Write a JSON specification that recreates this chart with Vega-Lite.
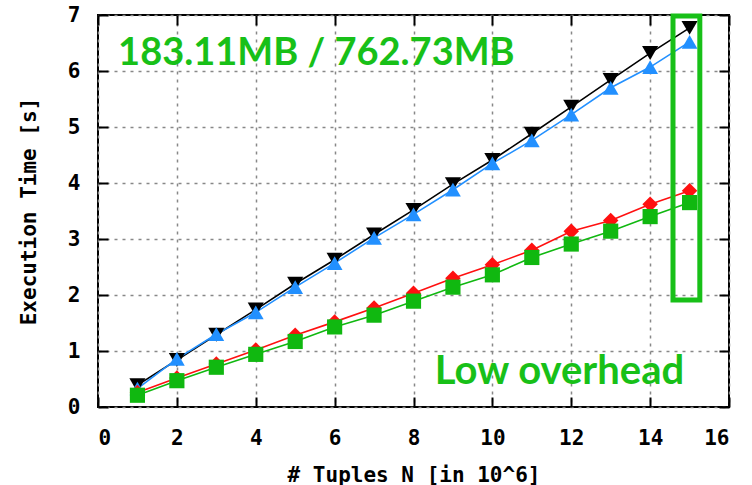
{
  "$schema": "https://vega.github.io/schema/vega-lite/v6.json",
  "width": 631,
  "height": 392,
  "autosize": {"type": "none"},
  "padding": {"left": 98, "top": 15, "right": 23, "bottom": 78},
  "background": "white",
  "config": {"view": {"stroke": "black", "strokeWidth": 2}},
  "datasets": {
    "series": [
      {"n": 1, "t": 0.39, "s": "A"}, {"n": 2, "t": 0.84, "s": "A"}, {"n": 3, "t": 1.29, "s": "A"}, {"n": 4, "t": 1.74, "s": "A"}, {"n": 5, "t": 2.2, "s": "A"},
      {"n": 6, "t": 2.63, "s": "A"}, {"n": 7, "t": 3.08, "s": "A"}, {"n": 8, "t": 3.52, "s": "A"}, {"n": 9, "t": 3.98, "s": "A"}, {"n": 10, "t": 4.41, "s": "A"},
      {"n": 11, "t": 4.88, "s": "A"}, {"n": 12, "t": 5.36, "s": "A"}, {"n": 13, "t": 5.84, "s": "A"}, {"n": 14, "t": 6.32, "s": "A"}, {"n": 15, "t": 6.77, "s": "A"},
      {"n": 1, "t": 0.33, "s": "B"}, {"n": 2, "t": 0.86, "s": "B"}, {"n": 3, "t": 1.3, "s": "B"}, {"n": 4, "t": 1.69, "s": "B"}, {"n": 5, "t": 2.14, "s": "B"},
      {"n": 6, "t": 2.57, "s": "B"}, {"n": 7, "t": 3.02, "s": "B"}, {"n": 8, "t": 3.44, "s": "B"}, {"n": 9, "t": 3.88, "s": "B"}, {"n": 10, "t": 4.35, "s": "B"},
      {"n": 11, "t": 4.76, "s": "B"}, {"n": 12, "t": 5.22, "s": "B"}, {"n": 13, "t": 5.7, "s": "B"}, {"n": 14, "t": 6.07, "s": "B"}, {"n": 15, "t": 6.52, "s": "B"},
      {"n": 1, "t": 0.26, "s": "C"}, {"n": 2, "t": 0.52, "s": "C"}, {"n": 3, "t": 0.77, "s": "C"}, {"n": 4, "t": 1.02, "s": "C"}, {"n": 5, "t": 1.28, "s": "C"},
      {"n": 6, "t": 1.52, "s": "C"}, {"n": 7, "t": 1.77, "s": "C"}, {"n": 8, "t": 2.03, "s": "C"}, {"n": 9, "t": 2.3, "s": "C"}, {"n": 10, "t": 2.54, "s": "C"},
      {"n": 11, "t": 2.8, "s": "C"}, {"n": 12, "t": 3.14, "s": "C"}, {"n": 13, "t": 3.33, "s": "C"}, {"n": 14, "t": 3.62, "s": "C"}, {"n": 15, "t": 3.86, "s": "C"},
      {"n": 1, "t": 0.21, "s": "D"}, {"n": 2, "t": 0.47, "s": "D"}, {"n": 3, "t": 0.71, "s": "D"}, {"n": 4, "t": 0.94, "s": "D"}, {"n": 5, "t": 1.17, "s": "D"},
      {"n": 6, "t": 1.43, "s": "D"}, {"n": 7, "t": 1.64, "s": "D"}, {"n": 8, "t": 1.89, "s": "D"}, {"n": 9, "t": 2.14, "s": "D"}, {"n": 10, "t": 2.36, "s": "D"},
      {"n": 11, "t": 2.67, "s": "D"}, {"n": 12, "t": 2.91, "s": "D"}, {"n": 13, "t": 3.14, "s": "D"}, {"n": 14, "t": 3.4, "s": "D"}, {"n": 15, "t": 3.65, "s": "D"}
    ],
    "box": [{"x1": 14.58, "x2": 15.26, "y1": 1.91, "y2": 6.98}],
    "notes": [
      {"x": 0.51, "y": 6.11, "label": "183.11MB / 762.73MB", "fs": 38},
      {"x": 8.54, "y": 0.41, "label": "Low overhead", "fs": 40}
    ]
  },
  "resolve": {"axis": {"x": "independent", "y": "independent"}},
  "layer": [
    {
      "layer": [
        {
          "data": {"name": "series"},
          "mark": {"type": "line", "strokeWidth": 1.6},
          "encoding": {
            "x": {"field": "n", "type": "quantitative", "scale": {"domain": [0, 16], "nice": false, "zero": false},
              "axis": {"title": "# Tuples N [in 10^6]", "values": [0, 2, 4, 6, 8, 10, 12, 14, 16], "format": "d", "grid": true, "gridDash": [3, 5], "gridColor": "#888888", "gridWidth": 1.5,
                "domain": false, "ticks": true, "tickSize": -10, "tickColor": "black", "tickWidth": 2, "labelPadding": 30,
                "labelFont": "DejaVu Sans Mono", "labelFontWeight": "bold", "labelFontSize": 21, "labelColor": "black",
                "titleFont": "DejaVu Sans Mono", "titleFontWeight": "bold", "titleFontSize": 21, "titleColor": "black", "titlePadding": 16}},
            "y": {"field": "t", "type": "quantitative", "scale": {"domain": [0, 7], "nice": false},
              "axis": {"title": "Execution Time [s]", "values": [0, 1, 2, 3, 4, 5, 6, 7], "format": "d", "grid": true, "gridDash": [3, 5], "gridColor": "#888888", "gridWidth": 1.5,
                "domain": false, "ticks": true, "tickSize": -10, "tickColor": "black", "tickWidth": 2, "labelPadding": 28,
                "labelFont": "DejaVu Sans Mono", "labelFontWeight": "bold", "labelFontSize": 21, "labelColor": "black",
                "titleFont": "DejaVu Sans Mono", "titleFontWeight": "bold", "titleFontSize": 21, "titleColor": "black", "titlePadding": 28}},
            "color": {"field": "s", "type": "nominal", "legend": null,
              "scale": {"domain": ["A", "B", "C", "D"], "range": ["#000000", "#2290ff", "#ff1010", "#10b810"]}},
            "order": {"field": "n"}
          }
        },
        {
          "data": {"name": "series"},
          "mark": {"type": "point", "filled": true, "opacity": 1},
          "encoding": {
            "x": {"field": "n", "type": "quantitative"},
            "y": {"field": "t", "type": "quantitative"},
            "color": {"field": "s", "type": "nominal", "legend": null},
            "shape": {"field": "s", "type": "nominal", "legend": null,
              "scale": {"domain": ["A", "B", "C", "D"], "range": ["triangle-down", "triangle-up", "diamond", "square"]}},
            "size": {"field": "s", "type": "nominal", "legend": null,
              "scale": {"domain": ["A", "B", "C", "D"], "range": [260, 230, 110, 200]}}
          }
        },
        {
          "data": {"name": "box"},
          "mark": {"type": "rect", "filled": false, "stroke": "#18c018", "strokeWidth": 5},
          "encoding": {
            "x": {"field": "x1", "type": "quantitative"},
            "x2": {"field": "x2"},
            "y": {"field": "y1", "type": "quantitative"},
            "y2": {"field": "y2"}
          }
        },
        {
          "data": {"name": "notes"},
          "mark": {"type": "text", "align": "left", "baseline": "alphabetic", "font": "Lato", "fontWeight": "bold", "color": "#18c018"},
          "encoding": {
            "x": {"field": "x", "type": "quantitative"},
            "y": {"field": "y", "type": "quantitative"},
            "text": {"field": "label"},
            "size": {"field": "fs", "type": "quantitative", "scale": null, "legend": null}
          }
        }
      ]
    },
    {
      "data": {"name": "series"},
      "mark": {"type": "point", "opacity": 0},
      "encoding": {
        "x": {"field": "n", "type": "quantitative",
          "axis": {"orient": "top", "title": null, "labels": false, "grid": false, "domain": false, "values": [0, 2, 4, 6, 8, 10, 12, 14, 16], "tickSize": -10, "tickColor": "black", "tickWidth": 2}},
        "y": {"field": "t", "type": "quantitative",
          "axis": {"orient": "right", "title": null, "labels": false, "grid": false, "domain": false, "values": [0, 1, 2, 3, 4, 5, 6, 7], "tickSize": -10, "tickColor": "black", "tickWidth": 2}}
      }
    }
  ]
}
